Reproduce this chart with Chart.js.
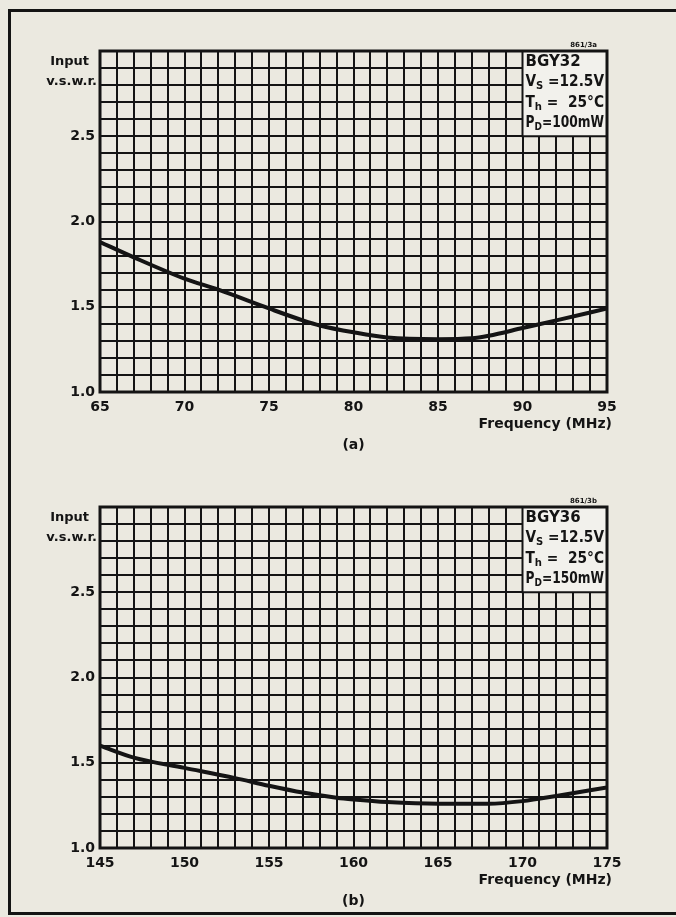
<!DOCTYPE html>
<html>
<head>
<meta charset="utf-8">
<title>Input v.s.w.r. versus frequency</title>
<script src="https://cdn.jsdelivr.net/npm/chart.js@4"></script>
<style>
	html, body {
		margin: 0;
		width: 676px;
		height: 917px;
		overflow: hidden;
		background: #ebe9e0;
	}
	.frame {
		position: absolute;
		left: 8px;
		top: 9px;
		width: 720px;
		height: 900px;
		border: 3px solid #141414;
		border-right: none;
	}
	canvas {
		position: absolute;
		left: 0;
	}
	#chart-a { top: 0; }
	#chart-b { top: 456px; }
</style>
</head>
<body>
<div class="frame"></div>
<canvas id="chart-a" width="676" height="460"></canvas>
<canvas id="chart-b" width="676" height="460"></canvas>
<script>
// BGY32, 65-95 MHz
const freqA = [65, 67, 70, 72, 75, 77, 78, 80, 82, 85, 87, 88, 90, 92, 95];
const vswrA = [1.88, 1.79, 1.665, 1.6, 1.49, 1.42, 1.39, 1.35, 1.32, 1.31, 1.315, 1.33, 1.375, 1.42, 1.49];

// BGY36, 145-175 MHz
const freqB = [145, 147, 150, 153, 155, 157, 159, 160, 162, 165, 168, 170, 172, 175];
const vswrB = [1.6, 1.53, 1.47, 1.41, 1.365, 1.325, 1.295, 1.285, 1.27, 1.26, 1.26, 1.275, 1.305, 1.355];

const yLabelValues = [1.0, 1.5, 2.0, 2.5];
const xLabelStep = 5;

const infoA = [
	{ main: "BGY32" },
	{ main: "V", sub: "S", rest: " =12.5V" },
	{ main: "T", sub: "h", rest: " =  25°C" },
	{ main: "P", sub: "D", rest: "=100mW" },
];
const infoB = [
	{ main: "BGY36" },
	{ main: "V", sub: "S", rest: " =12.5V" },
	{ main: "T", sub: "h", rest: " =  25°C" },
	{ main: "P", sub: "D", rest: "=150mW" },
];

const INK = "#141414";
const BOX_FILL = "#f2f1ec";
const FONT = "'DejaVu Sans', sans-serif";
const MAIN_FONT = `bold 15px ${FONT}`;
const SUB_FONT = `bold 11px ${FONT}`;

// Draws a line of text with an optional subscript part, squeezed to maxWidth
const drawSubText = (ctx, line, x, y, maxWidth) => {
	const parts = [
		{ text: line.main, font: MAIN_FONT, dy: 0 },
		{ text: line.sub || "", font: SUB_FONT, dy: 4 },
		{ text: line.rest || "", font: MAIN_FONT, dy: 0 },
	];
	const total = parts.reduce((w, p) => {
		ctx.font = p.font;
		return w + ctx.measureText(p.text).width;
	}, 0);
	ctx.save();
	ctx.translate(x, y);
	if (total > maxWidth) ctx.scale(maxWidth / total, 1);
	let cx = 0;
	parts.forEach((p) => {
		ctx.font = p.font;
		ctx.fillText(p.text, cx, p.dy);
		cx += ctx.measureText(p.text).width;
	});
	ctx.restore();
};

// Info box, plot frame and the free text round the plot
const annotations = {
	id: "annotations",
	afterDraw(chart, args, opts) {
		const { ctx, chartArea: a, scales } = chart;
		const boxLeft = scales.x.getPixelForValue(opts.boxFromX);
		const boxBottom = scales.y.getPixelForValue(2.5);
		ctx.save();

		ctx.fillStyle = BOX_FILL;
		ctx.fillRect(boxLeft, a.top, a.right - boxLeft, boxBottom - a.top);
		ctx.strokeStyle = INK;
		ctx.lineWidth = 2;
		ctx.strokeRect(boxLeft, a.top, a.right - boxLeft, boxBottom - a.top);

		ctx.fillStyle = INK;
		ctx.textBaseline = "middle";
		ctx.textAlign = "left";
		opts.info.forEach((line, i) => {
			drawSubText(ctx, line, boxLeft + 3, a.top + 11 + i * 20.5, a.right - boxLeft - 6);
		});

		// plot frame
		ctx.lineWidth = 3;
		ctx.strokeRect(a.left, a.top, a.right - a.left, a.bottom - a.top);

		ctx.font = `bold 7px ${FONT}`;
		ctx.textAlign = "right";
		ctx.fillText(opts.tag, a.right - 10, a.top - 6);

		ctx.font = `bold 13px ${FONT}`;
		ctx.fillText("Input", a.left - 11, a.top + 11);
		ctx.fillText("v.s.w.r.", a.left - 3, a.top + 31);

		ctx.font = `bold 14px ${FONT}`;
		ctx.fillText("Frequency (MHz)", a.right + 5, a.bottom + 32);
		ctx.textAlign = "center";
		ctx.fillText(opts.caption, (a.left + a.right) / 2, a.bottom + 53);
		ctx.restore();
	},
};

const buildChart = (canvasId, freq, vswr, info, caption, tag) => {
	const xMin = freq[0];
	const xMax = freq[freq.length - 1];
	return new Chart(document.getElementById(canvasId), {
		type: "line",
		data: {
			datasets: [
				{
					data: freq.map((f, i) => ({ x: f, y: vswr[i] })),
					borderColor: INK,
					borderWidth: 4,
					pointRadius: 0,
					cubicInterpolationMode: "monotone",
					fill: false,
				},
			],
		},
		options: {
			responsive: false,
			animation: false,
			events: [],
			layout: { padding: { top: 51, left: 0, right: 69, bottom: 0 } },
			scales: {
				x: {
					type: "linear",
					min: xMin,
					max: xMax,
					afterFit: (scale) => {
						scale.height = 68;
					},
					grid: { color: INK, lineWidth: 2, drawTicks: false },
					border: { display: false },
					ticks: {
						stepSize: 1,
						autoSkip: false,
						maxTicksLimit: 100,
						maxRotation: 0,
						padding: 7,
						color: INK,
						font: { family: FONT, size: 14, weight: "bold" },
						callback: (v) => ((v - xMin) % xLabelStep === 0 ? String(v) : ""),
					},
				},
				y: {
					min: 1,
					max: 3,
					afterFit: (scale) => {
						scale.width = 100;
					},
					grid: { color: INK, lineWidth: 2, drawTicks: false },
					border: { display: false },
					ticks: {
						stepSize: 0.1,
						autoSkip: false,
						maxTicksLimit: 100,
						padding: 5,
						color: INK,
						font: { family: FONT, size: 14, weight: "bold" },
						callback: (v) => {
							const hit = yLabelValues.find((l) => Math.abs(l - v) < 1e-6);
							return hit === undefined ? "" : hit.toFixed(1);
						},
					},
				},
			},
			plugins: {
				legend: { display: false },
				tooltip: { enabled: false },
				annotations: { info, caption, tag, boxFromX: xMax - 5 },
			},
		},
		plugins: [annotations],
	});
};

buildChart("chart-a", freqA, vswrA, infoA, "(a)", "861/3a");
buildChart("chart-b", freqB, vswrB, infoB, "(b)", "861/3b");
</script>
</body>
</html>
